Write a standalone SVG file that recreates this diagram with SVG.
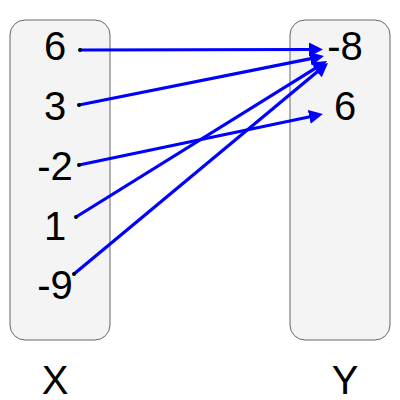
<svg xmlns="http://www.w3.org/2000/svg" width="400" height="400" viewBox="0 0 400 400">
<style>
.box{fill:#f4f4f4;stroke:#666666;stroke-width:1}
.lbl{font-family:"Liberation Sans",Arial,sans-serif;font-size:40px;fill:#000;text-anchor:middle}
.edge{stroke:#0000ff;stroke-width:3.2;fill:none;marker-end:url(#arr)}
.dot{fill:#000}
</style>
<defs>
<marker id="arr" markerUnits="userSpaceOnUse" markerWidth="15" markerHeight="15" refX="2" refY="7" orient="auto" viewBox="0 0 15 14">
<path d="M0,0 L14,7 L0,14 z" fill="#0000ff"/>
</marker>
</defs>
<g id="setX">
<rect class="box" x="10" y="20" width="100" height="320" rx="15" ry="15"/>
</g>
<g id="setY">
<rect class="box" x="290" y="20" width="100" height="320" rx="15" ry="15"/>
</g>
<g id="x6"><text class="lbl" x="55" y="60">6</text></g>
<g id="x3"><text class="lbl" x="55" y="120">3</text></g>
<g id="xm2"><text class="lbl" x="55" y="180">-2</text></g>
<g id="x1"><text class="lbl" x="55" y="240">1</text></g>
<g id="xm9"><text class="lbl" x="55" y="299">-9</text></g>
<g id="ym8"><text class="lbl" x="345" y="60">-8</text></g>
<g id="y6"><text class="lbl" x="345" y="120">6</text></g>
<g id="labelX"><text class="lbl" x="55" y="394">X</text></g>
<g id="labelY"><text class="lbl" x="345" y="394">Y</text></g>
<g id="connectors">
<line class="edge" x1="80" y1="50" x2="311" y2="49.5"/>
<line class="edge" x1="79" y1="105" x2="312.2" y2="58.4"/>
<line class="edge" x1="79" y1="165" x2="311.2" y2="116.5"/>
<line class="edge" x1="76" y1="217" x2="316.8" y2="67.3"/>
<line class="edge" x1="74" y1="274" x2="318.8" y2="70.6"/>
<circle class="dot" cx="80" cy="50" r="2"/>
<circle class="dot" cx="79" cy="105" r="2"/>
<circle class="dot" cx="79" cy="165" r="2"/>
<circle class="dot" cx="76" cy="217" r="2"/>
<circle class="dot" cx="74" cy="274" r="2"/>
</g>
</svg>
